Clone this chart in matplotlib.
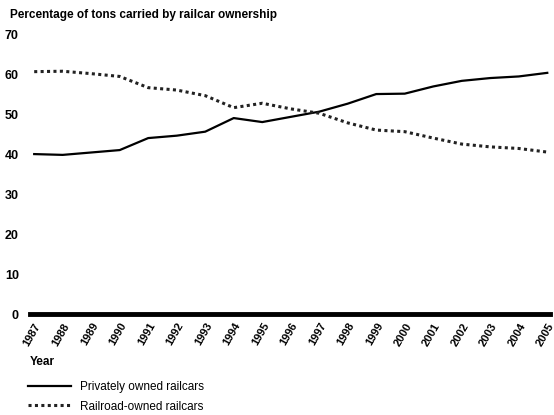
import matplotlib
matplotlib.use("Agg")
import matplotlib.pyplot as plt

plt.rcParams['font.family'] = ['Liberation Sans', 'DejaVu Sans']

years = list(range(1987, 2006))
private_owned = [40.0, 39.8, 40.4, 41.0, 44.0, 44.6, 45.6, 49.0, 48.0, 49.3,
                 50.6, 52.6, 55.0, 55.1, 56.9, 58.3, 59.0, 59.4, 60.3]
railroad_owned = [60.6, 60.7, 60.1, 59.4, 56.6, 56.0, 54.6, 51.6, 52.7, 51.3,
                  50.2, 47.8, 46.0, 45.6, 44.0, 42.5, 41.8, 41.4, 40.5]

fig = plt.figure(figsize=(5.54, 4.15), dpi=100)
ax = fig.add_axes([0.054, 0.243, 0.939, 0.675])

ax.plot(years, private_owned, color='black', linewidth=1.6,
        label='Privately owned railcars')
ax.plot(years, railroad_owned, color='#222222', linewidth=2.2,
        linestyle=(0, (1.0, 1.1)), label='Railroad-owned railcars')

ax.set_xlim(1986.85, 2005.1)
ax.set_ylim(0, 70)
ax.set_yticks(range(0, 71, 10))
ax.set_xticks(years)
ax.set_xticklabels([str(y) for y in years], rotation=60, ha='right',
                   rotation_mode='anchor', fontsize=8, fontweight='bold')
ax.set_yticklabels([str(v) for v in range(0, 71, 10)], fontsize=9,
                   fontweight='bold')
ax.tick_params(axis='both', length=0)
ax.tick_params(axis='y', pad=8)
ax.tick_params(axis='x', pad=5)

for side in ['top', 'right', 'left']:
    ax.spines[side].set_visible(False)
ax.spines['bottom'].set_linewidth(3.5)
ax.spines['bottom'].set_zorder(5)

fig.text(0.018, 0.965, 'Percentage of tons carried by railcar ownership',
         fontsize=8.5, fontweight='bold', va='center')
fig.text(0.054, 0.127, 'Year', fontsize=8.5, fontweight='bold', va='center')

ax.legend(loc='upper left', bbox_to_anchor=(0.04, 0.095),
          bbox_transform=fig.transFigure, frameon=False, fontsize=8.5,
          handlelength=3.6, labelspacing=0.6, borderpad=0, handletextpad=0.8)

fig.savefig('out.png', dpi=100)
